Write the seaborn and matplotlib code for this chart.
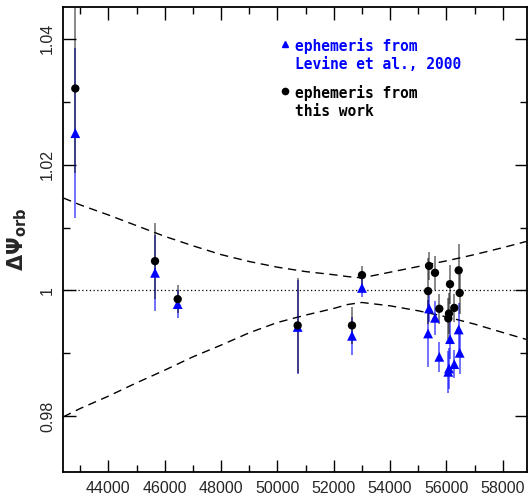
import numpy as np
import pandas as pd
import matplotlib
matplotlib.use("Agg")
import matplotlib.pyplot as plt
from matplotlib.ticker import MultipleLocator, FixedLocator
import seaborn as sns

# ---- data ----
mjd = [42826, 45656, 46461, 50720, 52648, 53003, 55350, 55385, 55595, 55748,
       56067, 56092, 56128, 56280, 56436, 56472]
dpsi_this = [1.0321, 1.00466, 0.99862, 0.99444, 0.99444, 1.00244, 0.9999, 1.0039,
             1.0028, 0.99709, 0.99555, 0.99634, 1.0010, 0.99723, 1.0032, 0.99960]
dpsi_levine = [1.0250, 1.0028, 0.99783, 0.9942, 0.99279, 1.0004, 0.99316, 0.99714,
               0.99565, 0.98945, 0.98707, 0.98760, 0.99226, 0.98829, 0.99380, 0.99009]
dpsi_err = [0.0135, 0.0060, 0.0022, 0.0075, 0.0030, 0.0015, 0.0053, 0.0022,
            0.0027, 0.0024, 0.0033, 0.0033, 0.0031, 0.0022, 0.0042, 0.0033]

env_x = [42400, 43000, 44000, 45000, 46000, 47000, 48000, 49000, 50000, 51000,
         52000, 52500, 53000, 54000, 55000, 56000, 57000, 58000, 58850]
env_upper = [1.0147, 1.0136, 1.0120, 1.0103, 1.0086, 1.0071, 1.0057, 1.0046, 1.0037,
             1.0030, 1.0025, 1.0022, 1.0020, 1.0029, 1.0038, 1.0047, 1.0057, 1.0068, 1.0078]
env_lower = [0.97991, 0.98124, 0.98320, 0.98532, 0.98733, 0.98945, 0.99131, 0.99327,
             0.99491, 0.99608, 0.99714, 0.99777, 0.99809, 0.99756, 0.99677, 0.99581,
             0.99465, 0.99332, 0.99220]

xticks = [44000, 46000, 48000, 50000, 52000, 54000, 56000, 58000]
yticks = [0.98, 1.0, 1.02, 1.04]
ytick_labels = ["0.98", "1", "1.02", "1.04"]

df = pd.DataFrame({"mjd": mjd, "this": dpsi_this, "levine": dpsi_levine, "err": dpsi_err})
env = pd.DataFrame({"x": env_x, "up": env_upper, "lo": env_lower})

sns.set_style("ticks")
plt.rcParams["font.family"] = ["Liberation Sans", "DejaVu Sans"]

fig = plt.figure(figsize=(5.28, 4.97), dpi=100)
ax = fig.add_axes([0.1199, 0.0497, 0.8776, 0.9356])

# envelopes and reference line
sns.lineplot(data=env, x="x", y="up", ax=ax, color="black", lw=1.0,
             dashes=False, linestyle=(0, (6, 4)), zorder=2)
sns.lineplot(data=env, x="x", y="lo", ax=ax, color="black", lw=1.0,
             dashes=False, linestyle=(0, (6, 4)), zorder=2)
ax.axhline(1.0, color="black", lw=0.9, linestyle=(0, (1, 2)), zorder=1)

# error bars
ax.errorbar(df["mjd"], df["levine"], yerr=df["err"], fmt="none",
            ecolor=(0, 0, 1, 0.6), elinewidth=1.3, capsize=0, zorder=3)
ax.errorbar(df["mjd"], df["this"], yerr=df["err"], fmt="none",
            ecolor=(0, 0, 0, 0.5), elinewidth=1.3, capsize=0, zorder=4)

sns.scatterplot(data=df, x="mjd", y="levine", ax=ax, marker="^", color="blue",
                s=50, edgecolor="none", zorder=5)
sns.scatterplot(data=df, x="mjd", y="this", ax=ax, marker="o", color="black",
                s=36, edgecolor="none", zorder=6)

ax.set_xlim(42400, 58850)
ax.set_ylim(0.9711, 1.0450)
ax.xaxis.set_major_locator(FixedLocator(xticks))
ax.xaxis.set_minor_locator(MultipleLocator(1000))
ax.yaxis.set_major_locator(FixedLocator(yticks))
ax.set_yticklabels(ytick_labels, rotation=90, va="center")
ax.yaxis.set_minor_locator(MultipleLocator(0.01))
ax.tick_params(which="both", direction="in", top=True, right=True, labelsize=11.5,
               width=1.0, color="black")
ax.tick_params(which="major", length=9)
ax.tick_params(which="minor", length=5)
ax.tick_params(axis="x", pad=6)
ax.tick_params(axis="y", pad=6)
for s in ax.spines.values():
    s.set_linewidth(1.3)
    s.set_color("black")

ax.set_xlabel("")
ax.set_ylabel(r"$\mathbf{\Delta\Psi}_{\mathbf{orb}}$", fontsize=15, labelpad=8)

# legend text
ax.plot([0.4785], [0.9205], transform=ax.transAxes, marker="^", color="blue", ms=5, ls="none")
ax.text(0.5, 0.9205 + 0.013, "ephemeris from\nLevine et al., 2000", transform=ax.transAxes,
        color="blue", fontsize=10.5, fontweight="bold", va="top",
        family=["DejaVu Sans Mono"], linespacing=1.25)
ax.plot([0.4785], [0.8195], transform=ax.transAxes, marker="o", color="black", ms=4.5, ls="none")
ax.text(0.5, 0.8195 + 0.013, "ephemeris from\nthis work", transform=ax.transAxes,
        color="black", fontsize=10.5, fontweight="bold", va="top",
        family=["DejaVu Sans Mono"], linespacing=1.25)

fig.savefig("out.png", dpi=100)
